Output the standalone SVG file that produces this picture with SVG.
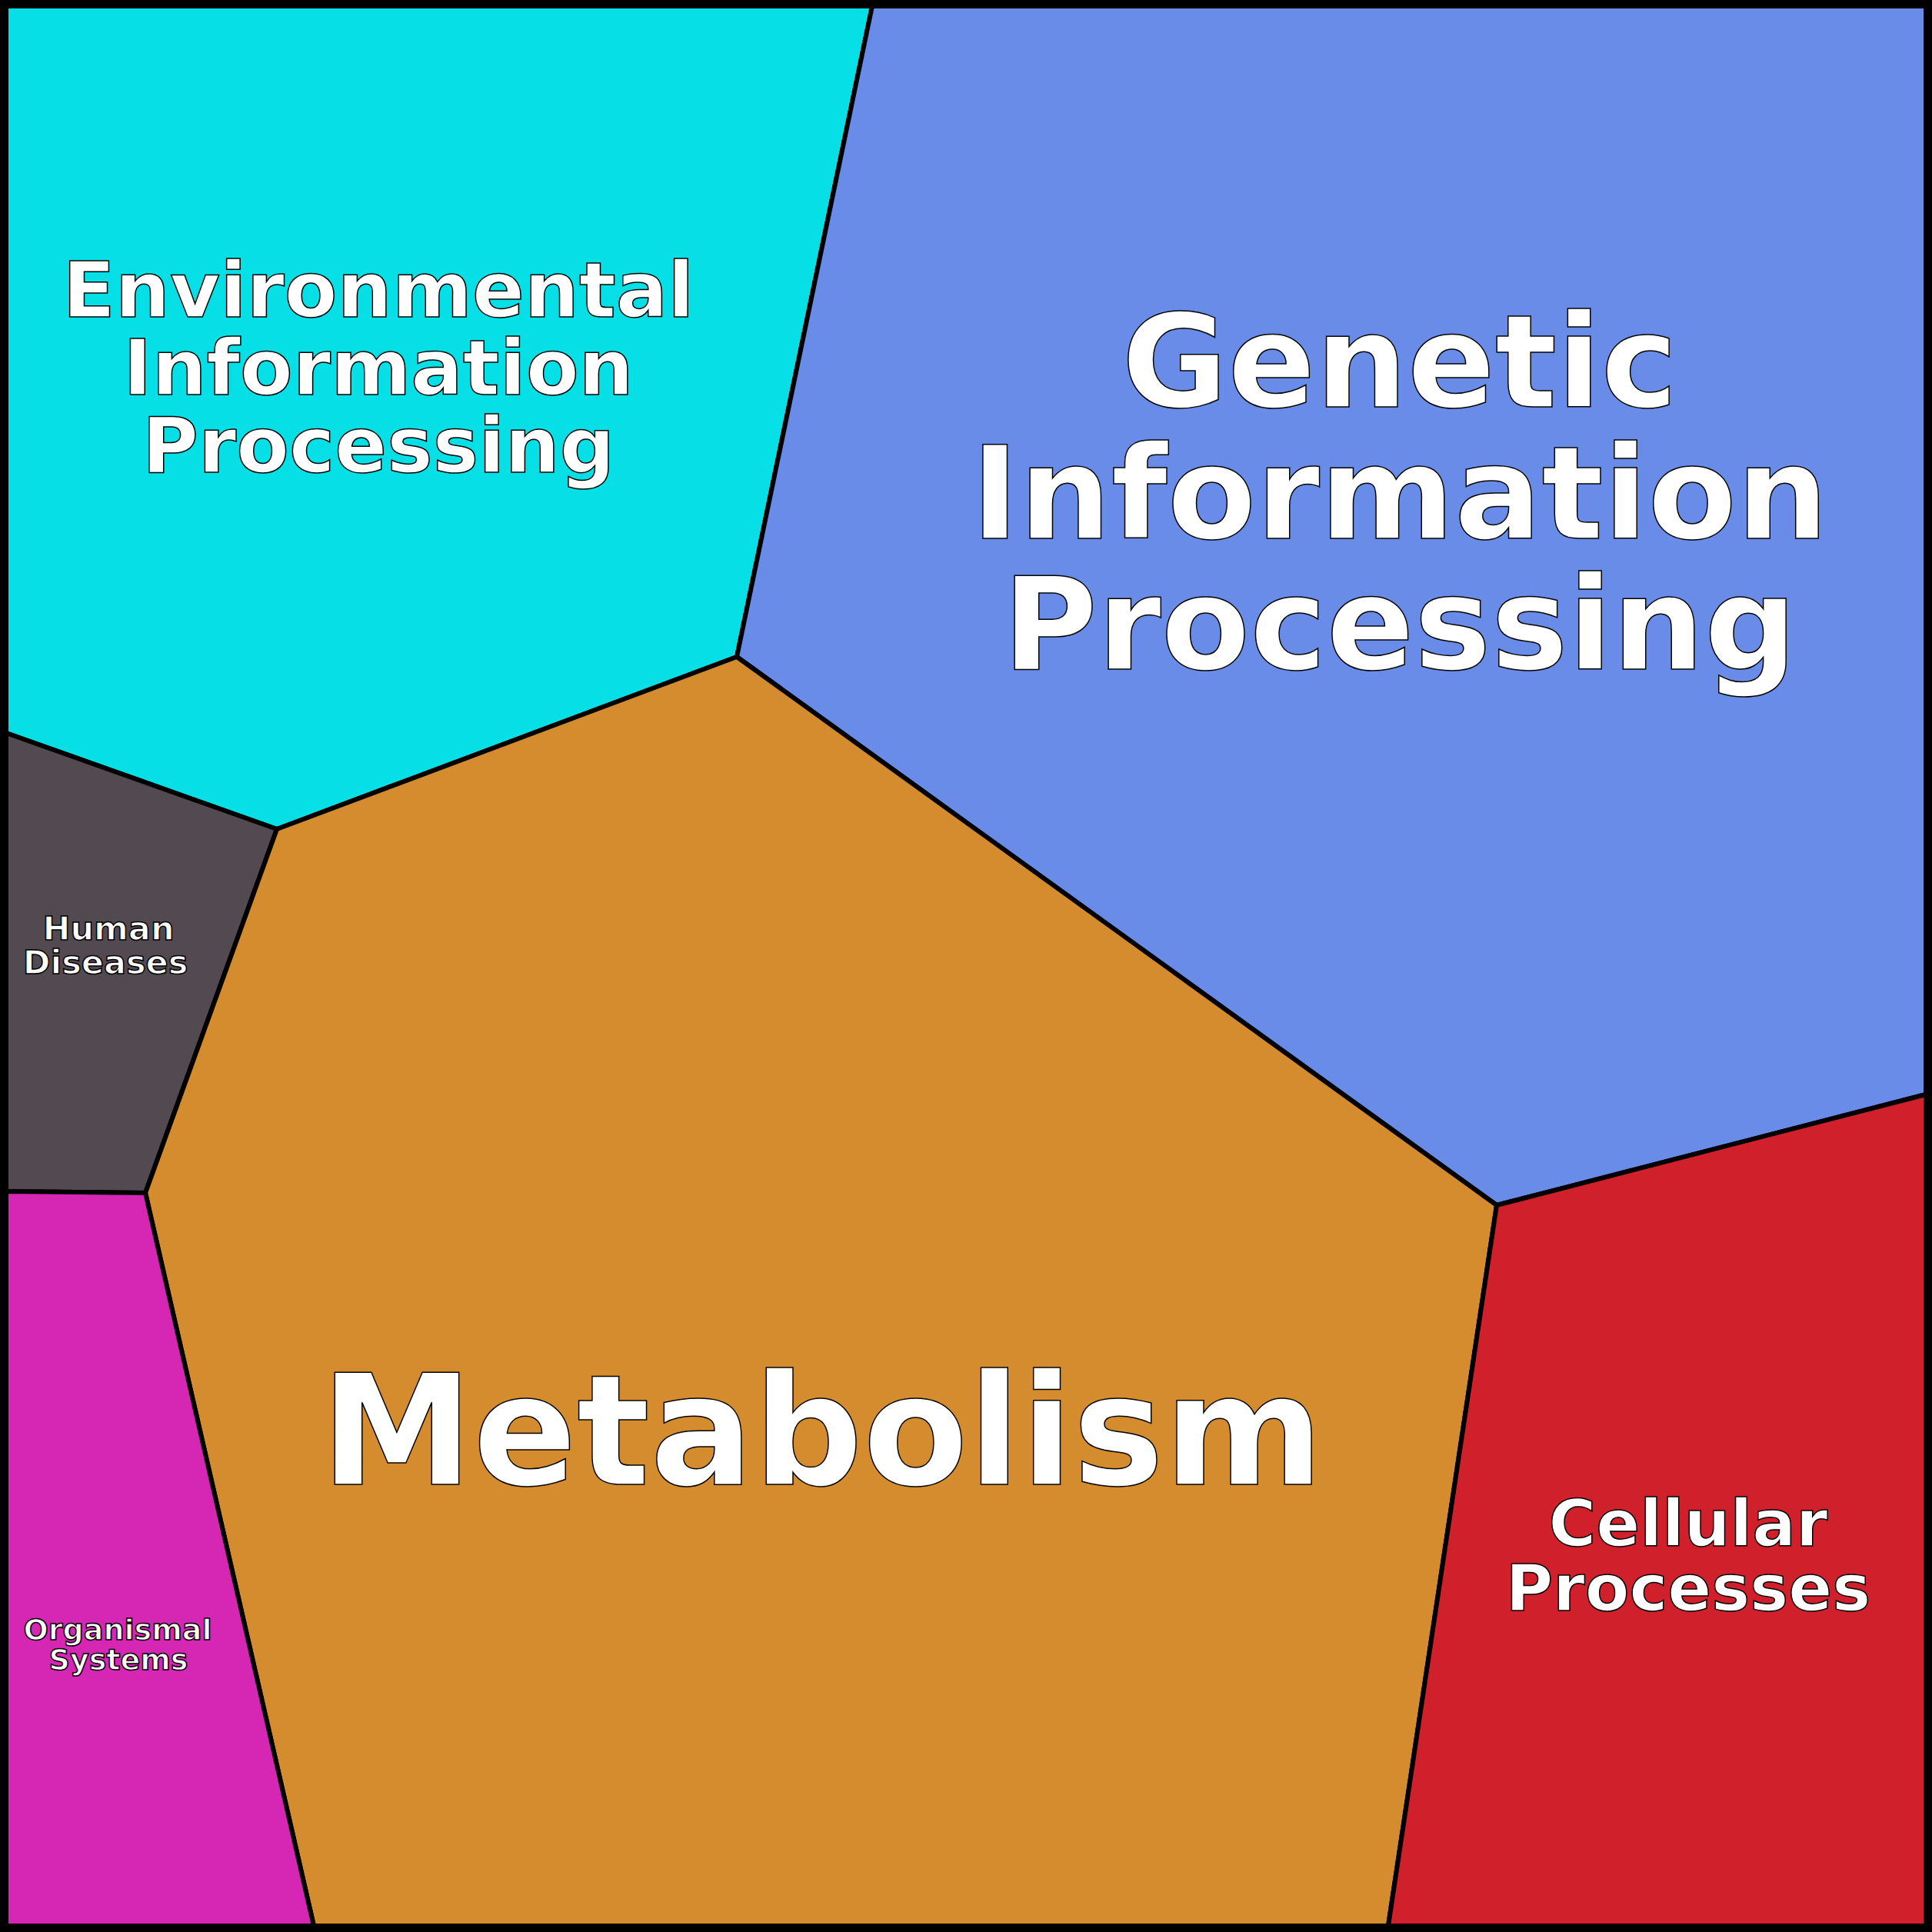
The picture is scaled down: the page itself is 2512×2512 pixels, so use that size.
<svg xmlns="http://www.w3.org/2000/svg" width="2512" height="2512" viewBox="0 0 2512 2512">
<style>
.r{stroke:#000;stroke-width:6;stroke-linejoin:round}
.t{font-family:"DejaVu Sans",sans-serif;font-weight:bold;fill:#fff;stroke:#000;stroke-width:1.5;text-anchor:middle}
</style>
<g id="env"><polygon class="r" fill="#05dfe5" points="8,8 1134,8 958,854 360,1078 8,953"/>
<text class="t" font-size="100"><tspan x="492" y="412">Environmental</tspan><tspan x="492" y="513">Information</tspan><tspan x="492" y="614">Processing</tspan></text></g>
<g id="gen"><polygon class="r" fill="#688ce8" points="1134,8 2504,8 2504,1423 1946,1567 958,854"/>
<text class="t" font-size="168"><tspan x="1820" y="529">Genetic</tspan><tspan x="1820" y="700">Information</tspan><tspan x="1820" y="870">Processing</tspan></text></g>
<g id="hum"><polygon class="r" fill="#524a50" points="8,953 360,1078 189,1551 8,1549"/>
<text class="t" font-size="43"><tspan x="141" y="1222">Human</tspan><tspan x="137" y="1266">Diseases</tspan></text></g>
<g id="met"><polygon class="r" fill="#d58c2e" points="958,854 1946,1567 1805,2504 408,2504 189,1551 360,1078"/>
<text class="t" font-size="199" x="1069" y="1930">Metabolism</text></g>
<g id="org"><polygon class="r" fill="#d627b4" points="8,1549 189,1551 408,2504 8,2504"/>
<text class="t" font-size="38"><tspan x="153" y="2132">Organismal</tspan><tspan x="154" y="2171">Systems</tspan></text></g>
<g id="cel"><polygon class="r" fill="#cf202b" points="1946,1567 2504,1423 2504,2504 1805,2504"/>
<text class="t" font-size="84"><tspan x="2195" y="2010">Cellular</tspan><tspan x="2195" y="2094">Processes</tspan></text></g>
<g id="connectors"><rect x="5" y="5" width="2502" height="2502" fill="none" stroke="#000" stroke-width="10"/></g>
</svg>
